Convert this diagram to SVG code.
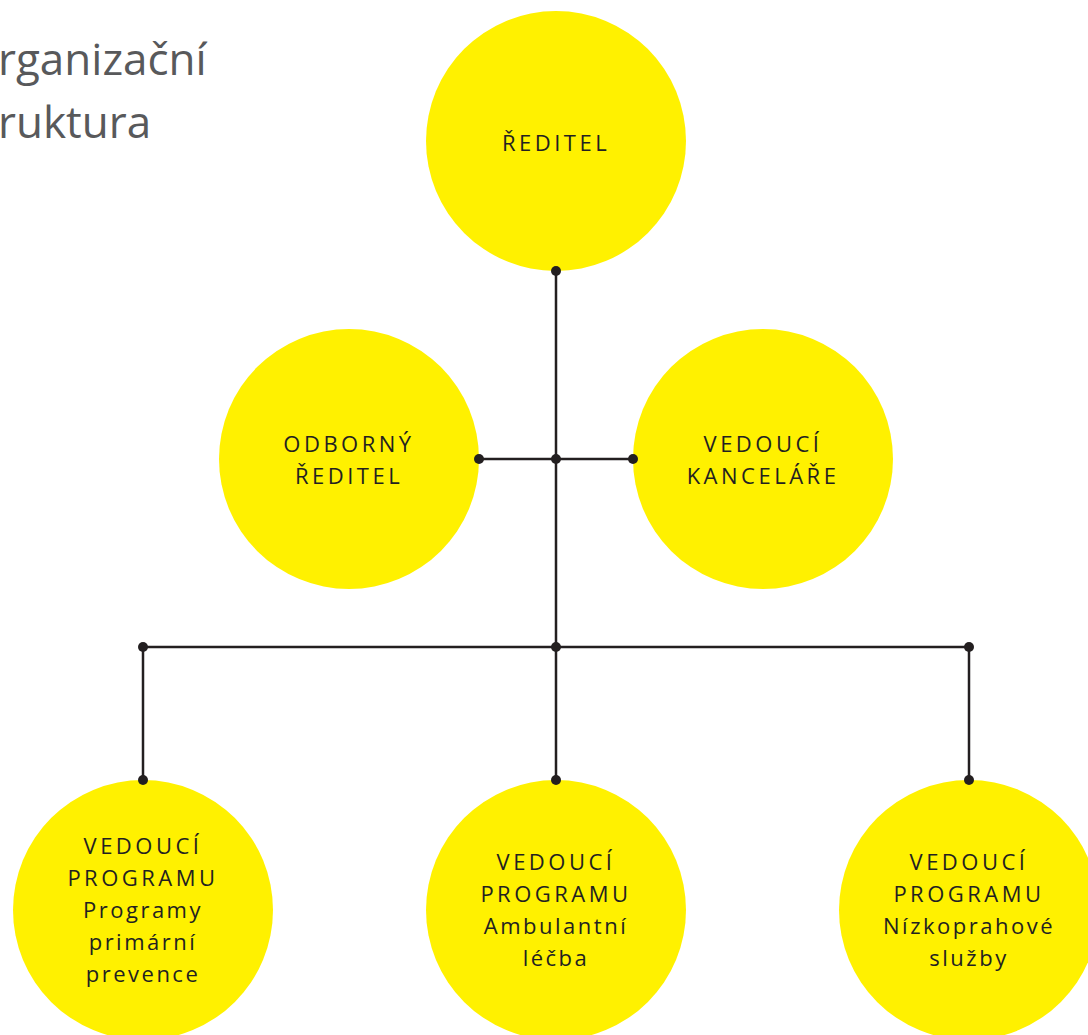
<svg xmlns="http://www.w3.org/2000/svg" width="1088" height="1035" viewBox="0 0 1088 1035">
<style>
.n{fill:#FFF100}
.t{font-family:"Open Sans","Lato","DejaVu Sans",sans-serif;font-size:22px;fill:#231f20;text-anchor:middle;letter-spacing:2.5px}
.u{letter-spacing:3.5px}
.title{font-family:"Open Sans","Lato",sans-serif;font-size:44px;fill:#58595b}
.c line{stroke:#231f20;stroke-width:2.5}
.c circle{fill:#231f20}
</style>
<rect width="1088" height="1035" fill="#fff"/>
<g id="title">
<text class="title" x="-2" y="75">rganizační</text>
<text class="title" x="-2" y="138">ruktura</text>
</g>
<g id="reditel">
<circle class="n" cx="556" cy="141" r="130"/>
<text class="t u" x="556" y="151">ŘEDITEL</text>
</g>
<g id="odborny">
<circle class="n" cx="349" cy="459" r="130"/>
<text class="t u" x="349" y="452">ODBORNÝ</text>
<text class="t u" x="349" y="484">ŘEDITEL</text>
</g>
<g id="kancelar">
<circle class="n" cx="763" cy="459" r="130"/>
<text class="t u" x="763" y="452">VEDOUCÍ</text>
<text class="t u" x="763" y="484">KANCELÁŘE</text>
</g>
<g id="prevence">
<circle class="n" cx="143" cy="910" r="130"/>
<text class="t u" x="143" y="854">VEDOUCÍ</text>
<text class="t u" x="143" y="886">PROGRAMU</text>
<text class="t" x="143" y="918">Programy</text>
<text class="t" x="143" y="950">primární</text>
<text class="t" x="143" y="982">prevence</text>
</g>
<g id="ambulantni">
<circle class="n" cx="556" cy="910" r="130"/>
<text class="t u" x="556" y="870">VEDOUCÍ</text>
<text class="t u" x="556" y="902">PROGRAMU</text>
<text class="t" x="556" y="934">Ambulantní</text>
<text class="t" x="556" y="966">léčba</text>
</g>
<g id="nizkoprahove">
<circle class="n" cx="969" cy="910" r="130"/>
<text class="t u" x="969" y="870">VEDOUCÍ</text>
<text class="t u" x="969" y="902">PROGRAMU</text>
<text class="t" x="969" y="934">Nízkoprahové</text>
<text class="t" x="969" y="966">služby</text>
</g>
<g id="connectors" class="c">
<line x1="556" y1="271" x2="556" y2="780"/>
<line x1="479" y1="459" x2="633" y2="459"/>
<line x1="143" y1="647" x2="969" y2="647"/>
<line x1="143" y1="647" x2="143" y2="780"/>
<line x1="969" y1="647" x2="969" y2="780"/>
<circle cx="556" cy="271" r="5"/>
<circle cx="479" cy="459" r="5"/>
<circle cx="556" cy="459" r="5"/>
<circle cx="633" cy="459" r="5"/>
<circle cx="143" cy="647" r="5"/>
<circle cx="556" cy="647" r="5"/>
<circle cx="969" cy="647" r="5"/>
<circle cx="143" cy="780" r="5"/>
<circle cx="556" cy="780" r="5"/>
<circle cx="969" cy="780" r="5"/>
</g>
</svg>
